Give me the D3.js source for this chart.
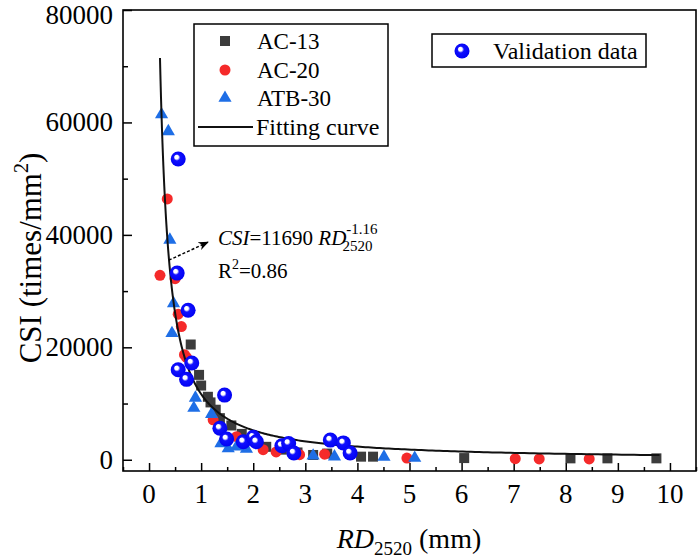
<!DOCTYPE html>
<html>
<head>
<meta charset="utf-8">
<script src="https://cdn.jsdelivr.net/npm/d3@7/dist/d3.min.js"></script>
<style>
  html, body { margin: 0; padding: 0; background: #fff; }
  svg { display: block; }
  text { font-family: "Liberation Serif", "Times New Roman", serif; fill: #000; }
</style>
</head>
<body>
<svg id="chart" width="700" height="558"></svg>
<script>
// ---------------- data ----------------
const xTickValues = [0, 1, 2, 3, 4, 5, 6, 7, 8, 9, 10];
const yTickValues = [0, 20000, 40000, 60000, 80000];
const seriesNames = ["AC-13", "AC-20", "ATB-30", "Fitting curve"];
const validationName = "Validation data";

const ac13X = [0.80, 0.96, 1.00, 1.13, 1.18, 1.28, 1.36, 1.58, 1.78, 1.98, 2.25, 2.55, 2.85, 3.15, 3.42, 4.07, 4.30, 6.05, 8.09, 8.80, 9.74];
const ac13Y = [20500, 15100, 13200, 11200, 10200, 8900, 7400, 6100, 4600, 3600, 2300, 1800, 1300, 850, 1100, 550, 550, 300, 250, 250, 250];

const ac20X = [0.21, 0.35, 0.50, 0.56, 0.62, 0.68, 0.72, 1.23, 1.68, 2.19, 2.44, 2.89, 3.37, 4.95, 7.03, 7.49, 8.45];
const ac20Y = [32800, 46400, 32200, 25900, 23700, 18700, 18200, 7100, 4100, 1800, 1400, 900, 1000, 300, 200, 150, 150];

const atbX = [0.24, 0.37, 0.40, 0.47, 0.44, 0.89, 0.86, 1.20, 1.38, 1.52, 1.68, 1.87, 3.15, 3.56, 4.51, 5.10];
const atbY = [61400, 58400, 39100, 27800, 22500, 11000, 9200, 8100, 2900, 2000, 2300, 1900, 700, 550, 500, 300];

const valX = [0.56, 0.54, 0.75, 0.82, 0.56, 0.72, 1.45, 1.36, 1.49, 1.81, 2.00, 2.06, 2.55, 2.68, 2.78, 3.48, 3.73, 3.86];
const valY = [53500, 33200, 26600, 17200, 16000, 14300, 11500, 5600, 3700, 3200, 4000, 3200, 2500, 2900, 1200, 3500, 3000, 1200];

// fitting curve CSI = a * RD^b, sampled over the drawn range
const fitA = 11690;
const fitB = -1.16;
const fitRange = [0.21, 9.8];

// ---------------- layout ----------------
const svg = d3.select("#chart");
const L = 123, R = 696, T = 10, B = 471;

const x = d3.scaleLinear().domain([-0.5, 10.5]).range([L, R]);
const y = d3.scaleLinear().domain([-2000, 80000]).range([B, T]);

const colAC13 = "#3c3c3c";
const colAC20 = "#f52a2a";
const colATB = "#1e6ee6";

const defs = svg.append("defs");
const grad = defs.append("radialGradient").attr("id", "ball")
  .attr("cx", "50%").attr("cy", "50%").attr("r", "55%")
  .attr("fx", "36%").attr("fy", "34%");
grad.append("stop").attr("offset", "0%").attr("stop-color", "#ffffff");
grad.append("stop").attr("offset", "22%").attr("stop-color", "#ffffff");
grad.append("stop").attr("offset", "40%").attr("stop-color", "#1010ff");
grad.append("stop").attr("offset", "100%").attr("stop-color", "#0000f0");

defs.append("marker").attr("id", "arrow")
  .attr("viewBox", "0 0 10 10").attr("refX", 9).attr("refY", 5)
  .attr("markerWidth", 7).attr("markerHeight", 7).attr("orient", "auto")
  .append("path").attr("d", "M0,1 L10,5 L0,9 L3,5 Z").attr("fill", "#000");

// ---------------- axes ----------------
const xAxis = d3.axisBottom(x).tickValues(xTickValues).tickSize(-8).tickFormat("");
const xMinor = d3.axisBottom(x).tickValues(d3.range(-0.5, 10.51, 1)).tickSize(-4).tickFormat("");
const yAxis = d3.axisLeft(y).tickValues(yTickValues).tickSize(-9).tickFormat("");
const yMinor = d3.axisLeft(y).tickValues([10000, 30000, 50000, 70000]).tickSize(-5).tickFormat("");

function styleAxis(g) {
  g.select(".domain").remove();
  g.selectAll("line").attr("stroke", "#000").attr("stroke-width", 1.5);
}
svg.append("g").attr("transform", `translate(0,${B})`).call(xAxis).call(styleAxis);
svg.append("g").attr("transform", `translate(0,${B})`).call(xMinor).call(styleAxis);
svg.append("g").attr("transform", `translate(${L},0)`).call(yAxis).call(styleAxis);
svg.append("g").attr("transform", `translate(${L},0)`).call(yMinor).call(styleAxis);

// tick labels
svg.append("g").selectAll("text").data(xTickValues).join("text")
  .attr("x", d => x(d)).attr("y", 503)
  .attr("text-anchor", "middle").attr("font-size", 27)
  .text(d => d);
svg.append("g").selectAll("text").data(yTickValues).join("text")
  .attr("x", L - 10).attr("y", d => Math.max(y(d) + 9, 24))
  .attr("text-anchor", "end").attr("font-size", 27)
  .text(d => d);

// frame
svg.append("rect").attr("x", L).attr("y", T).attr("width", R - L).attr("height", B - T)
  .attr("fill", "none").attr("stroke", "#000").attr("stroke-width", 1.6);

// axis titles
const xt = svg.append("text").attr("x", 409).attr("y", 548).attr("text-anchor", "middle").attr("font-size", 28);
xt.append("tspan").attr("font-style", "italic").text("RD");
xt.append("tspan").attr("font-size", 19).attr("dy", 7).text("2520");
xt.append("tspan").attr("dy", -7).text(" (mm)");

const yt = svg.append("text").attr("transform", `translate(41,258) rotate(-90)`)
  .attr("text-anchor", "middle").attr("font-size", 31);
yt.append("tspan").text("CSI (times/mm");
yt.append("tspan").attr("font-size", 20).attr("dy", -13).text("2");
yt.append("tspan").attr("dy", 13).text(")");

// ---------------- marks ----------------
const pts = (xs, ys) => xs.map((v, i) => [v, ys[i]]);

svg.append("g").selectAll("rect").data(pts(ac13X, ac13Y)).join("rect")
  .attr("x", d => x(d[0]) - 5).attr("y", d => y(d[1]) - 5)
  .attr("width", 10).attr("height", 10).attr("fill", colAC13);

svg.append("g").selectAll("circle").data(pts(ac20X, ac20Y)).join("circle")
  .attr("cx", d => x(d[0])).attr("cy", d => y(d[1])).attr("r", 5.5).attr("fill", colAC20);

const tri = d3.symbol().type(d3.symbolTriangle).size(75);
svg.append("g").selectAll("path").data(pts(atbX, atbY)).join("path")
  .attr("transform", d => `translate(${x(d[0])},${y(d[1])})`)
  .attr("d", tri).attr("fill", colATB);

// fitting curve
const fitX = d3.range(0, 301).map(i => fitRange[0] * Math.pow(fitRange[1] / fitRange[0], i / 300));
const line = d3.line().x(d => x(d)).y(d => y(fitA * Math.pow(d, fitB)));
svg.append("path").datum(fitX).attr("d", line)
  .attr("fill", "none").attr("stroke", "#111").attr("stroke-width", 2);

// validation
svg.append("g").selectAll("circle").data(pts(valX, valY)).join("circle")
  .attr("cx", d => x(d[0])).attr("cy", d => y(d[1])).attr("r", 7.5).attr("fill", "url(#ball)");

// ---------------- annotation ----------------
const arrowFrom = [0.38, 35500], arrowTo = [1.13, 38700];
svg.append("line")
  .attr("x1", x(arrowFrom[0])).attr("y1", y(arrowFrom[1]))
  .attr("x2", x(arrowTo[0])).attr("y2", y(arrowTo[1]))
  .attr("stroke", "#000").attr("stroke-width", 1.5).attr("stroke-dasharray", "3,2")
  .attr("marker-end", "url(#arrow)");

const eq = svg.append("text").attr("x", 218).attr("y", 245).attr("font-size", 21);
eq.append("tspan").attr("font-style", "italic").text("CSI");
eq.append("tspan").text("=11690 ");
eq.append("tspan").attr("font-style", "italic").text("RD");
eq.append("tspan").attr("font-size", 15).attr("dy", -11).text("-1.16");
eq.append("tspan").attr("font-size", 15).attr("dx", -35).attr("dy", 17).text("2520");

const r2 = svg.append("text").attr("x", 218).attr("y", 278).attr("font-size", 21);
r2.append("tspan").text("R");
r2.append("tspan").attr("font-size", 14).attr("dy", -9).text("2");
r2.append("tspan").attr("dy", 9).text("=0.86");

// ---------------- legends ----------------
const lg = svg.append("g");
lg.append("rect").attr("x", 194).attr("y", 24).attr("width", 194).attr("height", 122)
  .attr("fill", "#fff").attr("stroke", "#000").attr("stroke-width", 1.5);
const rowY = [41, 70, 98, 127];
lg.append("rect").attr("x", 220).attr("y", rowY[0] - 5).attr("width", 10).attr("height", 10).attr("fill", colAC13);
lg.append("circle").attr("cx", 225).attr("cy", rowY[1]).attr("r", 5.5).attr("fill", colAC20);
lg.append("path").attr("transform", `translate(225,${rowY[2]})`).attr("d", tri).attr("fill", colATB);
lg.append("line").attr("x1", 198).attr("x2", 253).attr("y1", rowY[3]).attr("y2", rowY[3])
  .attr("stroke", "#111").attr("stroke-width", 2);
lg.selectAll("text.lab").data(seriesNames).join("text").attr("class", "lab")
  .attr("x", d => d === "Fitting curve" ? 256 : 257).attr("y", (d, i) => rowY[i] + 8)
  .attr("font-size", d => d === "Fitting curve" ? 24 : 23).text(d => d);

const lg2 = svg.append("g");
lg2.append("rect").attr("x", 432).attr("y", 34).attr("width", 214).attr("height", 33)
  .attr("fill", "#fff").attr("stroke", "#000").attr("stroke-width", 1.5);
lg2.append("circle").attr("cx", 462).attr("cy", 51).attr("r", 7.5).attr("fill", "url(#ball)");
lg2.append("text").attr("x", 493).attr("y", 59).attr("font-size", 24).text(validationName);
</script>
</body>
</html>
